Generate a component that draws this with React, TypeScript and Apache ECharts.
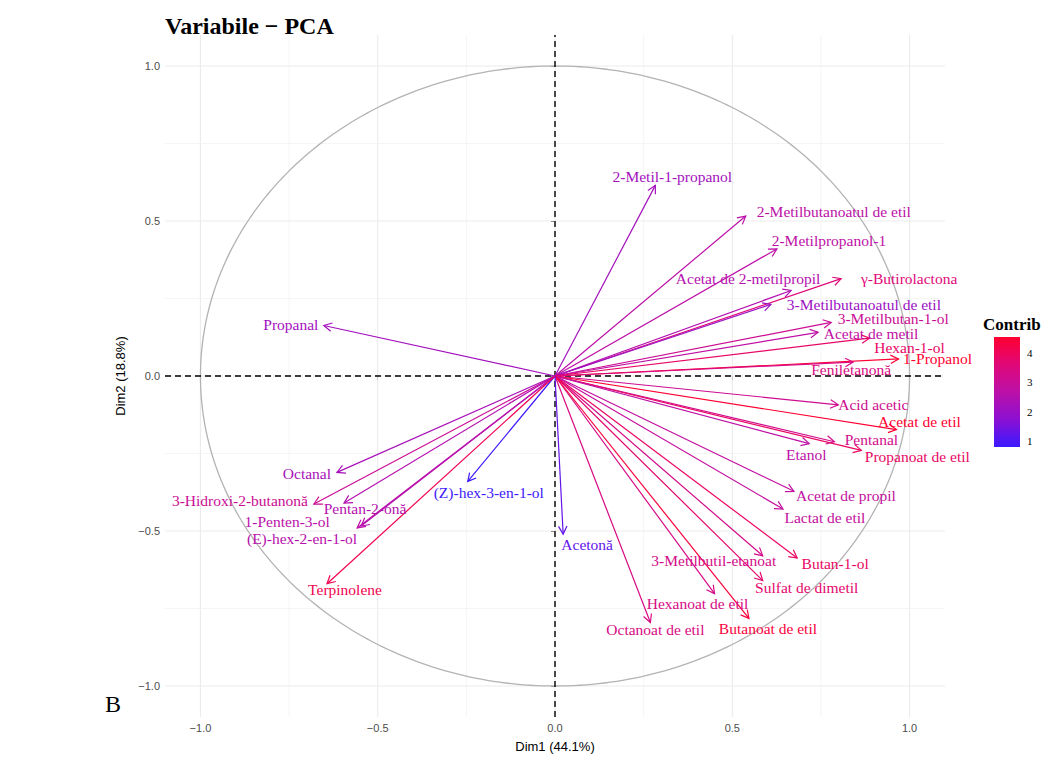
import React, { useEffect, useRef } from "react";
import * as echarts from "echarts";

const names = [
  "2-Metil-1-propanol", "2-Metilbutanoatul de etil", "2-Metilpropanol-1", "γ-Butirolactona",
  "Acetat de 2-metilpropil", "3-Metilbutanoatul de etil", "3-Metilbutan-1-ol", "Acetat de metil",
  "Hexan-1-ol", "1-Propanol", "Feniletanonă", "Acid acetic", "Acetat de etil", "Pentanal",
  "Propanoat de etil", "Etanol", "Acetat de propil", "Lactat de etil", "3-Metilbutil-etanoat",
  "Butan-1-ol", "Sulfat de dimetil", "Hexanoat de etil", "Butanoat de etil", "Octanoat de etil",
  "Acetonă", "(Z)-hex-3-en-1-ol", "Octanal", "3-Hidroxi-2-butanonă", "Pentan-2-onă",
  "1-Penten-3-ol", "(E)-hex-2-en-1-ol", "Terpinolene", "Propanal",
];
const dim1 = [
  0.283, 0.538, 0.626, 0.807, 0.666, 0.609, 0.779, 0.742, 0.887, 0.969, 0.841, 0.799, 0.963,
  0.788, 0.864, 0.717, 0.674, 0.643, 0.586, 0.683, 0.586, 0.45, 0.547, 0.269, 0.023, -0.246,
  -0.615, -0.68, -0.595, -0.558, -0.547, -0.643, -0.652,
];
const dim2 = [
  0.615, 0.516, 0.41, 0.314, 0.276, 0.231, 0.173, 0.141, 0.122, 0.055, 0.045, -0.093, -0.173,
  -0.212, -0.24, -0.218, -0.372, -0.429, -0.58, -0.587, -0.66, -0.702, -0.782, -0.795, -0.51,
  -0.34, -0.311, -0.413, -0.41, -0.49, -0.484, -0.67, 0.163,
];
const contrib = [
  2.21, 2.68, 2.7, 3.61, 2.51, 2.04, 3.07, 2.75, 3.86, 4.54, 3.42, 3.12, 4.55, 3.21, 3.88, 2.71,
  2.85, 2.88, 3.28, 3.91, 3.75, 3.35, 4.39, 3.4, 1.26, 0.85, 2.29, 3.05, 2.52, 2.66, 2.57, 4.16,
  2.18,
];
const majorTicks = [-1, -0.5, 0, 0.5, 1];
const minorTicks = [-0.75, -0.25, 0.25, 0.75];
const legendTicks = [1, 2, 3, 4];

// label placement (pixel offsets from arrow tip), layout only
const labelOffsets = [
  [17, -9], [88, -5], [52, -8], [68, 0], [-43, -12], [93, 0], [62, -4], [53, 1], [40, 9],
  [39, 0], [-2, 7], [35, 0], [23, -8], [37, -2], [56, 6], [-3, 11], [52, 4], [42, 9], [-49, 5],
  [38, 6], [44, 7], [-17, 10], [19, 10], [5, 7], [24, 10], [21, 11], [-30, 1], [-74, -4],
  [21, 5], [-70, -6], [-59, 12], [18, 6], [-33, -1],
];

const CMIN = 0.8;
const CMAX = 4.55;
const gradColors = ["#3a1aff", "#8c10d2", "#bc10a8", "#e00878", "#ff0030"];
const LIM = 1.1;
const SERIF = "'Liberation Serif', 'DejaVu Serif', serif";
const SANS = "'Liberation Sans', Arial, sans-serif";

export default function App() {
  const ref = useRef<HTMLDivElement>(null);
  useEffect(() => {
    if (!ref.current) return;
    const chart = echarts.init(ref.current, null, { renderer: "svg" });
    const arrowData = names.map((n, i) => [dim1[i], dim2[i], contrib[i], i]);
    const fmt = (v: number) => (v < 0 ? "\u2212" + Math.abs(v).toFixed(1) : v.toFixed(1));

    const legX = 994, legY = 337, legW = 26, legH = 110;
    const graphics: any[] = [
      {
        type: "text", left: 165, top: 14,
        style: { text: "Variabile \u2212 PCA", font: `bold 24px ${SERIF}`, fill: "#000" },
      },
      {
        type: "text", left: 105, top: 692,
        style: { text: "B", font: `24px ${SERIF}`, fill: "#000" },
      },
      {
        type: "text", left: 983, top: 316,
        style: { text: "Contrib", font: `bold 17px ${SERIF}`, fill: "#000" },
      },
      {
        type: "rect",
        shape: { x: legX, y: legY, width: legW, height: legH },
        style: {
          fill: new echarts.graphic.LinearGradient(0, 1, 0, 0,
            gradColors.map((c, k) => ({ offset: k / (gradColors.length - 1), color: c }))),
        },
      },
      ...legendTicks.map((v) => ({
        type: "text",
        x: legX + legW + 7,
        y: legY + legH - ((v - CMIN) / (CMAX - CMIN)) * legH,
        style: {
          text: String(v), font: `11px ${SERIF}`, fill: "#000",
          align: "left", verticalAlign: "middle", textAlign: "left", textVerticalAlign: "middle",
        },
      })),
    ];

    const option: any = {
      animation: false,
      backgroundColor: "#fff",
      grid: { left: 165, right: 101, top: 35, height: 686 },
      xAxis: {
        type: "value", min: -LIM, max: LIM,
        name: "Dim1 (44.1%)", nameLocation: "middle", nameGap: 23,
        nameTextStyle: { fontFamily: SANS, fontSize: 13, color: "#000" },
        axisLine: { show: false },
        splitLine: { show: false },
        axisTick: { show: true, customValues: majorTicks, length: 4, lineStyle: { color: "#333" } },
        axisLabel: {
          customValues: majorTicks, formatter: fmt, margin: 5,
          fontFamily: SANS, fontSize: 11, color: "#4d4d4d",
        },
      },
      yAxis: {
        type: "value", min: -LIM, max: LIM,
        name: "Dim2 (18.8%)", nameLocation: "middle", nameGap: 28,
        nameTextStyle: { fontFamily: SANS, fontSize: 13, color: "#000" },
        axisLine: { show: false },
        splitLine: { show: false },
        axisTick: { show: true, customValues: majorTicks, length: 4, lineStyle: { color: "#333" } },
        axisLabel: {
          customValues: majorTicks, formatter: fmt, margin: 5,
          fontFamily: SANS, fontSize: 11, color: "#4d4d4d",
        },
      },
      visualMap: {
        type: "continuous", show: false, dimension: 2, min: CMIN, max: CMAX,
        seriesIndex: [3, 4], inRange: { color: gradColors },
      },
      graphic: graphics,
      series: [
        {
          type: "custom", z: 1, silent: true,
          data: [...majorTicks.map((v) => [v, 1]), ...minorTicks.map((v) => [v, 0])],
          renderItem: (params: any, api: any) => {
            const v = api.value(0);
            const major = api.value(1) === 1;
            const a = api.coord([v, -LIM]), b = api.coord([v, LIM]);
            const c = api.coord([-LIM, v]), d = api.coord([LIM, v]);
            const st = { stroke: major ? "#ebebeb" : "#f2f2f2", lineWidth: major ? 1.1 : 0.8 };
            return {
              type: "group",
              children: [
                { type: "line", shape: { x1: a[0], y1: a[1], x2: b[0], y2: b[1] }, style: st },
                { type: "line", shape: { x1: c[0], y1: c[1], x2: d[0], y2: d[1] }, style: st },
              ],
            };
          },
        },
        {
          type: "custom", z: 2, silent: true,
          data: [[0, 0]],
          renderItem: (params: any, api: any) => {
            const pts: number[][] = [];
            for (let k = 0; k <= 360; k++) {
              const t = (k / 360) * Math.PI * 2;
              pts.push(api.coord([Math.cos(t), Math.sin(t)]));
            }
            return { type: "polyline", shape: { points: pts }, style: { stroke: "#b3b3b3", lineWidth: 1.3, fill: "none" } };
          },
        },
        {
          type: "custom", z: 3, silent: true,
          data: [[0, 0]],
          renderItem: (params: any, api: any) => {
            const a = api.coord([0, -LIM]), b = api.coord([0, LIM]);
            const c = api.coord([-LIM, 0]), d = api.coord([LIM, 0]);
            const st = { stroke: "#000", lineWidth: 1.4, lineDash: [6, 4] };
            return {
              type: "group",
              children: [
                { type: "line", shape: { x1: c[0], y1: c[1], x2: d[0], y2: d[1] }, style: st },
                { type: "line", shape: { x1: a[0], y1: a[1], x2: b[0], y2: b[1] }, style: st },
              ],
            };
          },
        },
        {
          type: "custom", z: 4, silent: true,
          data: arrowData,
          renderItem: (params: any, api: any) => {
            const o = api.coord([0, 0]);
            const t = api.coord([api.value(0), api.value(1)]);
            const color = api.visual("color");
            const dx = t[0] - o[0], dy = t[1] - o[1];
            const len = Math.sqrt(dx * dx + dy * dy) || 1;
            const ux = dx / len, uy = dy / len;
            const L = 9, ang = (28 * Math.PI) / 180;
            const rot = (s: number) => [
              t[0] - L * (ux * Math.cos(s * ang) - uy * Math.sin(s * ang)),
              t[1] - L * (ux * Math.sin(s * ang) + uy * Math.cos(s * ang)),
            ];
            const st = { stroke: color, lineWidth: 1.2, fill: "none" };
            return {
              type: "group",
              children: [
                { type: "line", shape: { x1: o[0], y1: o[1], x2: t[0], y2: t[1] }, style: st },
                { type: "polyline", shape: { points: [rot(1), t, rot(-1)] }, style: st },
              ],
            };
          },
        },
        {
          type: "custom", z: 5, silent: true,
          data: arrowData,
          renderItem: (params: any, api: any) => {
            const i = api.value(3);
            const t = api.coord([api.value(0), api.value(1)]);
            const color = api.visual("color");
            const off = labelOffsets[i];
            return {
              type: "text",
              x: t[0] + off[0], y: t[1] + off[1],
              style: {
                text: names[i], fill: color, font: `15.5px ${SERIF}`,
                align: "center", verticalAlign: "middle", textAlign: "center", textVerticalAlign: "middle",
              },
            };
          },
        },
      ],
    };
    chart.setOption(option);
    return () => chart.dispose();
  }, []);
  return <div ref={ref} style={{ position: "absolute", left: 0, top: 0, width: 1046, height: 758 }} />;
}
